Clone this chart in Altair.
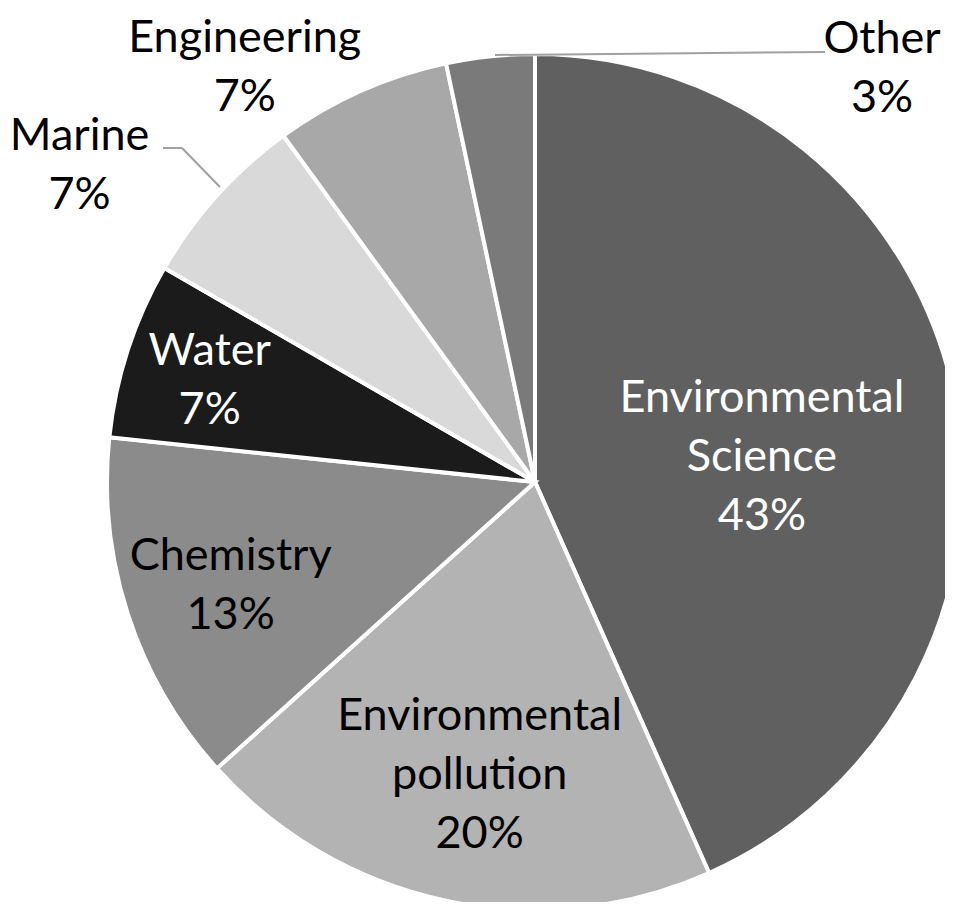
import altair as alt
import pandas as pd

# ---- data ----
categories = ["Environmental Science", "Environmental pollution", "Chemistry",
              "Water", "Marine", "Engineering", "Other"]
values = [13, 6, 4, 2, 2, 2, 1]
colors = ["#606060", "#b3b3b3", "#8b8b8b", "#1b1b1b", "#d9d9d9", "#a8a8a8", "#7a7a7a"]

df = pd.DataFrame({"category": categories, "value": values, "idx": list(range(len(values)))})
total = sum(values)

# ---- label layout (radius px, dx, dy of block centre, colour) ----
label_style = {
    "Environmental Science": (232, 0, 23, "white"),
    "Environmental pollution": (300, 7, 0, "black"),
    "Chemistry": (320, 0, 5, "black"),
    "Water": (340, -2, 4, "white"),
    "Marine": (520, -69, 31, "black"),
    "Engineering": (480, -95, 24, "black"),
    "Other": (430, 392, 14, "black"),
}

FONT = "Lato"
FS = 45
LH = 59

theta_scale = alt.Scale(domain=[0, total])

base = alt.Chart(df).transform_joinaggregate(
    total="sum(value)"
).transform_window(
    end="sum(value)", sort=[alt.SortField("idx")], frame=[None, 0]
).transform_calculate(
    start="datum.end - datum.value",
    mid="datum.end - datum.value / 2",
    label="replace(datum.category, ' ', '\\n') + '\\n' + format(datum.value / datum.total, '.0%')",
)

pie = base.mark_arc(outerRadius=428, stroke="white", strokeWidth=4).encode(
    theta=alt.Theta("start:Q", scale=theta_scale),
    theta2="end:Q",
    color=alt.Color("category:N", scale=alt.Scale(domain=categories, range=colors), legend=None),
)

layers = [pie]
for cat in categories:
    r, dx, dy, col = label_style[cat]
    nlines = cat.count(" ") + 2
    layers.append(
        base.transform_filter(alt.datum.category == cat).mark_text(
            radius=r, dx=dx, dy=dy - (nlines - 1) * LH / 2, color=col, font=FONT, fontSize=FS,
            lineHeight=LH, lineBreak="\n", align="center", baseline="middle",
        ).encode(
            theta=alt.Theta("mid:Q", scale=theta_scale),
            text="label:N",
        )
    )

# leader lines (view coordinates; view origin is at page (125, 62))
lead = alt.Chart(pd.DataFrame({"k": [0]}))
leaders = [
    ((38, 86), (57, 86)),
    ((57, 86), (95, 125)),
    ((370, -7), (700, -10)),
]
for (x1, y1), (x2, y2) in leaders:
    layers.append(
        lead.mark_rule(color="#a0a0a0", strokeWidth=2).encode(
            x=alt.value(x1), y=alt.value(y1), x2=alt.value(x2), y2=alt.value(y2)
        )
    )

chart = alt.layer(*layers).properties(
    width=820, height=840,
    padding={"left": 117, "top": 54, "right": 0, "bottom": 0},
    autosize=alt.AutoSizeParams(type="none"),
).configure_view(stroke=None)

chart.save("out.html", embed_options={"renderer": "svg", "actions": False})
